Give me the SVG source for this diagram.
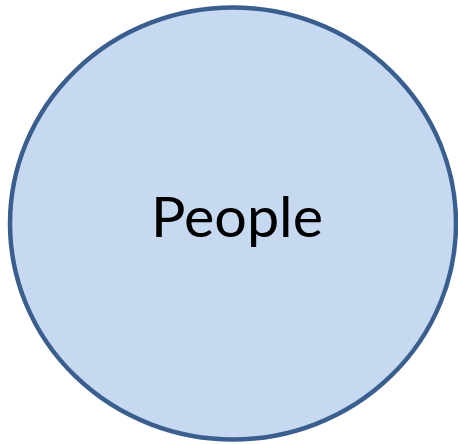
<svg xmlns="http://www.w3.org/2000/svg" width="458" height="444" viewBox="0 0 458 444">
<style>
.node ellipse{fill:#c6d9f1;stroke:#3a5f8f;stroke-width:4.5}
.node text{font-family:Lato,"Open Sans","Liberation Sans",sans-serif;font-size:56px;fill:#000}
</style>
<rect width="458" height="444" fill="#fff"/>
<g id="connectors"/>
<g id="people" class="node">
<ellipse cx="233" cy="223.5" rx="223" ry="216"/>
<text x="237" y="237" text-anchor="middle" textLength="172" lengthAdjust="spacingAndGlyphs">People</text>
</g>
</svg>
